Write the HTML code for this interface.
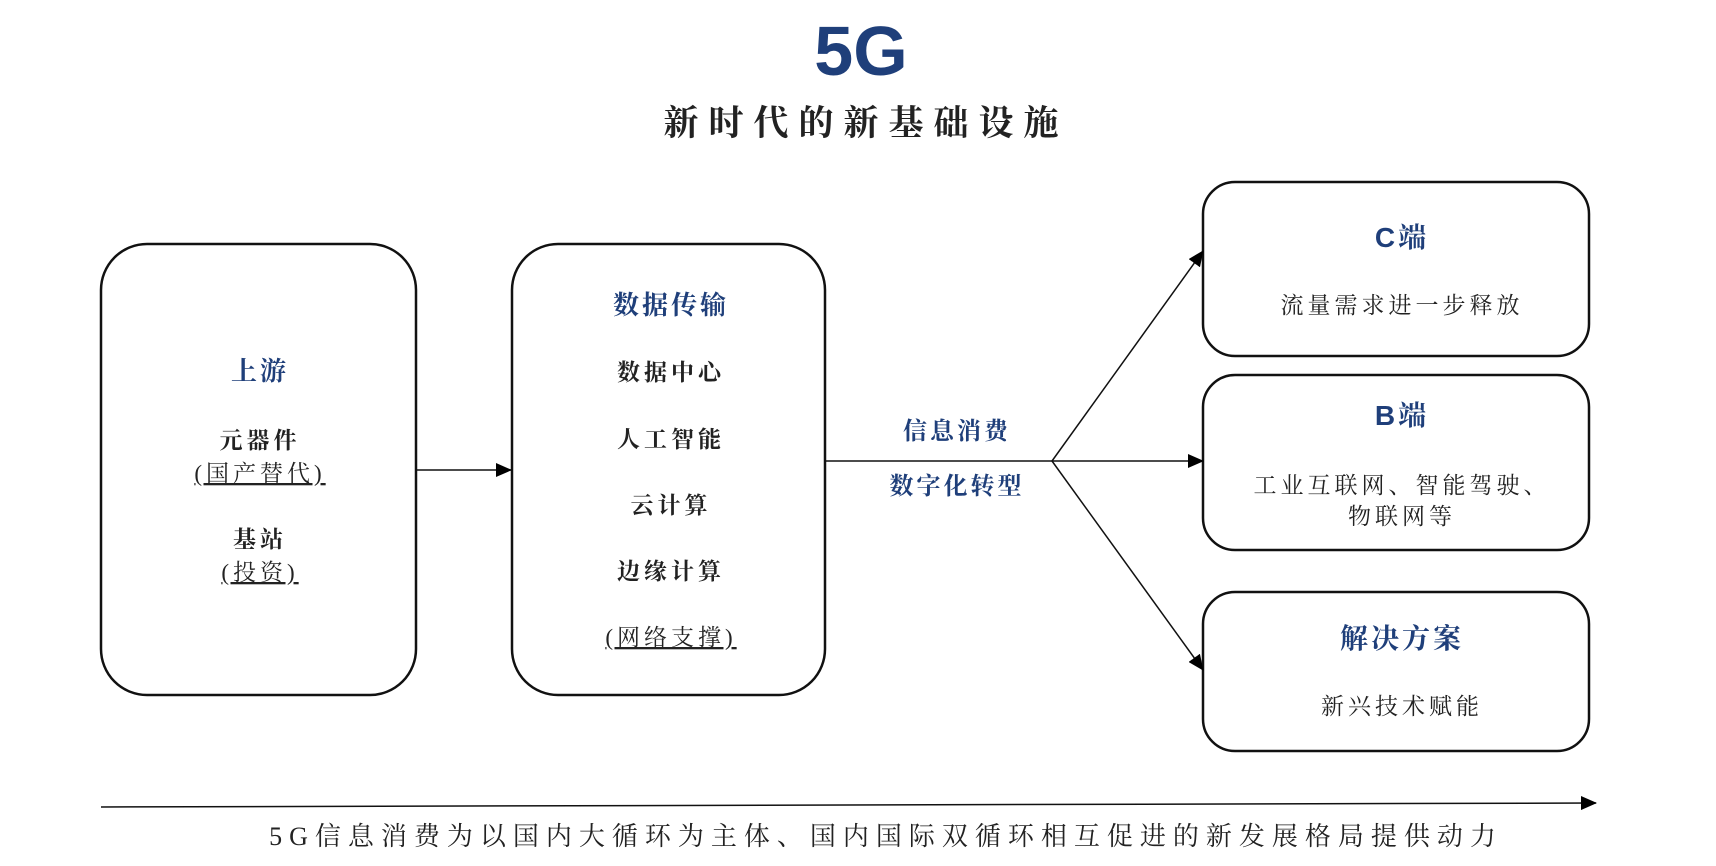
<!DOCTYPE html>
<html><head><meta charset="utf-8"><style>
html,body{margin:0;padding:0;background:#fff;width:1716px;height:866px;overflow:hidden}
svg{display:block}
.t{font-family:"Liberation Serif","Noto Serif CJK SC",serif;fill:#222;text-anchor:middle;letter-spacing:4px}
.h{font-family:"Liberation Sans","Noto Serif CJK SC",sans-serif;fill:#1f3f7a;font-weight:bold;text-anchor:middle;letter-spacing:3px}
</style></head><body>
<svg width="1716" height="866" viewBox="0 0 1716 866">
<defs><marker id="b" markerWidth="16" markerHeight="14" refX="15" refY="7" orient="auto" markerUnits="userSpaceOnUse"><path d="M0,0 L16,7 L0,14 z" fill="#000"/></marker></defs>
<text x="861" y="75" class="h" font-size="70" style="font-family:'Liberation Sans',sans-serif;letter-spacing:0">5G</text>
<text x="866" y="135" class="t" font-size="35" font-weight="bold" style="letter-spacing:10px">新时代的新基础设施</text>
<g fill="none" stroke="#111" stroke-width="2.5">
<rect x="101" y="244" width="315" height="451" rx="46"/>
<rect x="512" y="244" width="313" height="451" rx="46"/>
<rect x="1203" y="182" width="386" height="174" rx="32"/>
<rect x="1203" y="375" width="386" height="175" rx="32"/>
<rect x="1203" y="592" width="386" height="159" rx="32"/>
</g>
<g stroke="#111" stroke-width="1.5" fill="none">
<line x1="416" y1="470" x2="511" y2="470" marker-end="url(#b)"/>
<line x1="825" y1="461" x2="1052" y2="461"/>
<line x1="1052" y1="461" x2="1203" y2="251" marker-end="url(#b)"/>
<line x1="1052" y1="461" x2="1203" y2="461" marker-end="url(#b)"/>
<line x1="1052" y1="461" x2="1203" y2="670" marker-end="url(#b)"/>
<line x1="101" y1="807" x2="1596" y2="803" marker-end="url(#b)"/>
</g>
<g font-size="26">
<text x="260" y="380" class="h" style="font-family:'Noto Serif CJK SC',serif">上游</text>
<text x="260" y="448" class="t" font-weight="bold" font-size="23">元器件</text>
<text x="260" y="481" class="t" font-size="23" text-decoration="underline">(国产替代)</text>
<text x="260" y="547" class="t" font-weight="bold" font-size="23">基站</text>
<text x="260" y="580" class="t" font-size="23" text-decoration="underline">(投资)</text>
<text x="671" y="314" class="h" style="font-family:'Noto Serif CJK SC',serif">数据传输</text>
<text x="671" y="380" class="t" font-weight="bold" font-size="23">数据中心</text>
<text x="671" y="447" class="t" font-weight="bold" font-size="23">人工智能</text>
<text x="671" y="513" class="t" font-weight="bold" font-size="23">云计算</text>
<text x="671" y="579" class="t" font-weight="bold" font-size="23">边缘计算</text>
<text x="671" y="645" class="t" font-size="23" text-decoration="underline">(网络支撑)</text>
<text x="957" y="439" class="h" font-size="24" style="font-family:'Noto Serif CJK SC',serif">信息消费</text>
<text x="957" y="494" class="h" font-size="24" style="font-family:'Noto Serif CJK SC',serif">数字化转型</text>
<text x="1402" y="247" class="h" font-size="28">C<tspan style="font-family:'Noto Serif CJK SC',serif">端</tspan></text>
<text x="1402" y="313" class="t" font-size="23">流量需求进一步释放</text>
<text x="1402" y="425" class="h" font-size="28">B<tspan style="font-family:'Noto Serif CJK SC',serif">端</tspan></text>
<text x="1402" y="493" class="t" font-size="23">工业互联网、智能驾驶、</text>
<text x="1402" y="524" class="t" font-size="23">物联网等</text>
<text x="1402" y="648" class="h" font-size="28" style="font-family:'Noto Serif CJK SC',serif">解决方案</text>
<text x="1402" y="714" class="t" font-size="23">新兴技术赋能</text>
<text x="886" y="845" class="t" font-size="26" style="letter-spacing:7px">5G信息消费为以国内大循环为主体、国内国际双循环相互促进的新发展格局提供动力</text>
</g>
</svg>
</body></html>
